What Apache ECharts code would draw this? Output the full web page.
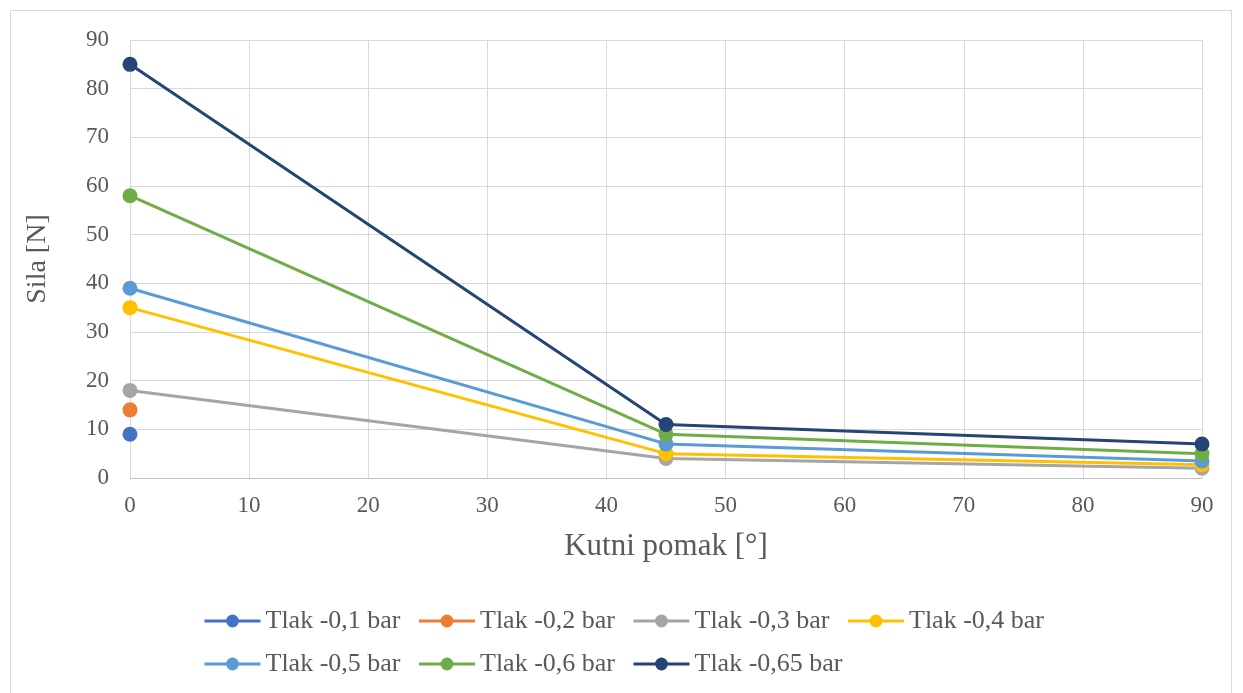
<!DOCTYPE html>
<html>
<head>
<meta charset="utf-8">
<script src="https://cdn.jsdelivr.net/npm/echarts@6/dist/echarts.min.js"></script>
<style>
  html, body { margin: 0; padding: 0; background: #fff; }
  #frame { position: absolute; left: 10px; top: 10px; width: 1222px; height: 700px; border: 1px solid #d9d9d9; box-sizing: border-box; }
  #chart { width: 1243px; height: 693px; position: absolute; left: 0; top: 0; }
</style>
</head>
<body>
<div id="frame"></div>
<div id="chart"></div>
<script>
// Kutni pomak [°] vs Sila [N]
const angles = [0, 45, 90];
const seriesNames = ['Tlak -0,1 bar', 'Tlak -0,2 bar', 'Tlak -0,3 bar', 'Tlak -0,4 bar', 'Tlak -0,5 bar', 'Tlak -0,6 bar', 'Tlak -0,65 bar'];
const tlak01 = [9];
const tlak02 = [14];
const tlak03 = [18, 4, 2];
const tlak04 = [35, 5, 2.7];
const tlak05 = [39, 7, 3.5];
const tlak06 = [58, 9, 5];
const tlak065 = [85, 11, 7];
const colors = ['#4472C4', '#ED7D31', '#A5A5A5', '#FFC000', '#5B9BD5', '#70AD47', '#264478'];

const allValues = [tlak01, tlak02, tlak03, tlak04, tlak05, tlak06, tlak065];
const font = '"Liberation Serif", "Times New Roman", serif';

const chart = echarts.init(document.getElementById('chart'));

const option = {
    animation: false,
    textStyle: { fontFamily: font },
    grid: {
        left: 130,
        right: 41,
        top: 40,
        bottom: 215
    },
    legend: {
        left: 198,
        top: 603,
        width: 890,
        itemWidth: 56,
        itemHeight: 16,
        itemGap: 17,
        lineStyle: { width: 3 },
        textStyle: { fontFamily: font, fontSize: 26, color: '#595959' },
        data: seriesNames
    },
    xAxis: {
        type: 'value',
        min: 0,
        max: 90,
        interval: 10,
        name: 'Kutni pomak [°]',
        nameLocation: 'middle',
        nameGap: 53,
        nameTextStyle: { fontFamily: font, fontSize: 31, color: '#595959' },
        axisLine: { show: true, lineStyle: { color: '#bfbfbf', width: 1 } },
        axisTick: { show: false },
        axisLabel: { fontFamily: font, fontSize: 23, color: '#595959', margin: 16 },
        splitLine: { show: true, lineStyle: { color: '#d9d9d9', width: 1 } }
    },
    yAxis: {
        type: 'value',
        min: 0,
        max: 90,
        interval: 10,
        name: 'Sila [N]',
        nameLocation: 'middle',
        nameGap: 78,
        nameTextStyle: { fontFamily: font, fontSize: 28, color: '#595959' },
        axisLine: { show: false },
        axisTick: { show: false },
        axisLabel: { fontFamily: font, fontSize: 23, color: '#595959', margin: 21 },
        splitLine: { show: true, lineStyle: { color: '#d9d9d9', width: 1 } }
    },
    series: seriesNames.map((name, i) => ({
        name: name,
        type: 'line',
        data: allValues[i].map((v, j) => [angles[j], v]),
        symbol: 'circle',
        symbolSize: 15,
        lineStyle: { color: colors[i], width: 3 },
        itemStyle: { color: colors[i] },
        z: 2 + i
    }))
};

chart.setOption(option);
</script>
</body>
</html>
